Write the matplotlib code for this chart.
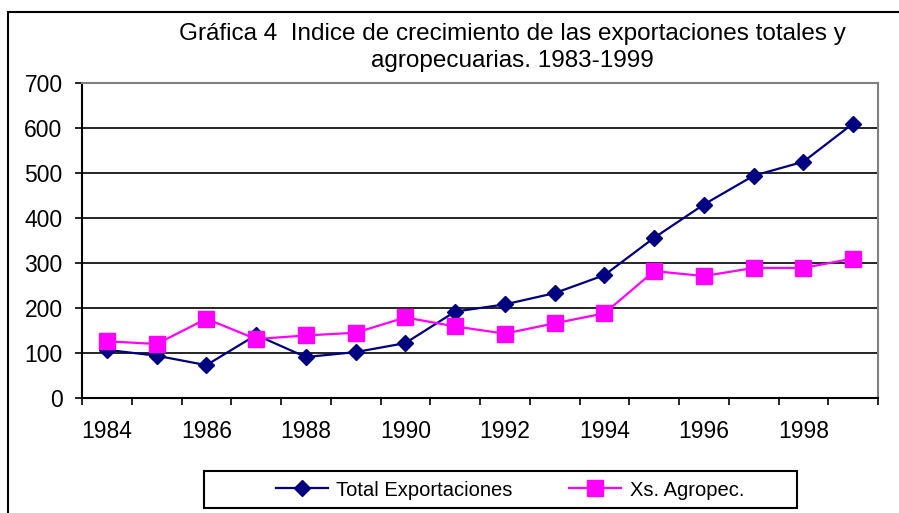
import matplotlib
matplotlib.use("Agg")
import matplotlib.pyplot as plt
import numpy as np
from matplotlib.patches import Rectangle

years = [1984, 1985, 1986, 1987, 1988, 1989, 1990, 1991, 1992, 1993, 1994, 1995, 1996, 1997, 1998, 1999]
total_export = [107, 94, 73, 140, 91, 102, 122, 192, 208, 233, 273, 356, 430, 494, 525, 610]
agro_export = [126, 120, 176, 131, 139, 145, 179, 159, 143, 166, 188, 282, 271, 289, 289, 310]
y_ticks = [0, 100, 200, 300, 400, 500, 600, 700]

plt.rcParams['font.family'] = ['Liberation Sans', 'DejaVu Sans']

W, H = 899, 513
fig = plt.figure(figsize=(W / 100, H / 100), dpi=100)
ax = fig.add_axes([82 / W, 1 - 398 / H, (878 - 82) / W, (398 - 83) / H])

x = np.arange(len(years))
ax.plot(x, total_export, color='#000080', marker='D', markersize=8, linewidth=1.6,
        label='Total Exportaciones', zorder=3)
ax.plot(x, agro_export, color='#FF00FF', marker='s', markersize=11, linewidth=1.6,
        label='Xs. Agropec.', zorder=3)

ax.set_xlim(-0.5, len(years) - 0.5)
ax.set_ylim(0, 700)
ax.set_yticks(y_ticks)
ax.yaxis.grid(True, color='black', linewidth=1.2)
ax.set_axisbelow(True)

ax.set_xticks(np.arange(-0.5, len(years), 1.0))
ax.set_xticklabels([])
ax.set_xticks(x[::2], minor=True)
ax.set_xticklabels([str(y) for y in years[::2]], minor=True)
ax.tick_params(axis='x', which='major', length=5, width=1.2, direction='out', color='black')
ax.tick_params(axis='x', which='minor', length=0, pad=16, labelsize=16.5)
ax.tick_params(axis='y', length=5, width=1.2, direction='out', labelsize=16.5, pad=9)

for s in ['left', 'bottom']:
    ax.spines[s].set_color('black')
    ax.spines[s].set_linewidth(1.5)
for s in ['top', 'right']:
    ax.spines[s].set_color('#808080')
    ax.spines[s].set_linewidth(1.5)

fig.text(512 / W, 1 - 34 / H, 'Gráfica 4  Indice de crecimiento de las exportaciones totales y',
         ha='center', va='center', fontsize=17.5)
fig.text(512 / W, 1 - 61 / H, 'agropecuarias. 1983-1999', ha='center', va='center', fontsize=17.5)

# outer chart frame
fig.patches.append(Rectangle((8 / W, -0.1), 1.2, 1 - 12 / H + 0.1, transform=fig.transFigure,
                             fill=False, edgecolor='black', linewidth=1.5))

# legend box
fig.patches.append(Rectangle((204 / W, 1 - 508 / H), (797 - 204) / W, 37 / H,
                             transform=fig.transFigure, fill=False, edgecolor='black',
                             linewidth=1.5, zorder=5))
leg = fig.legend(loc='center', bbox_to_anchor=(510 / W, 1 - 490 / H),
                 ncol=2, frameon=False, fontsize=14.5, handlelength=2.6,
                 handletextpad=0.4, columnspacing=2.8, borderaxespad=0)

fig.savefig('out.png', dpi=100)
